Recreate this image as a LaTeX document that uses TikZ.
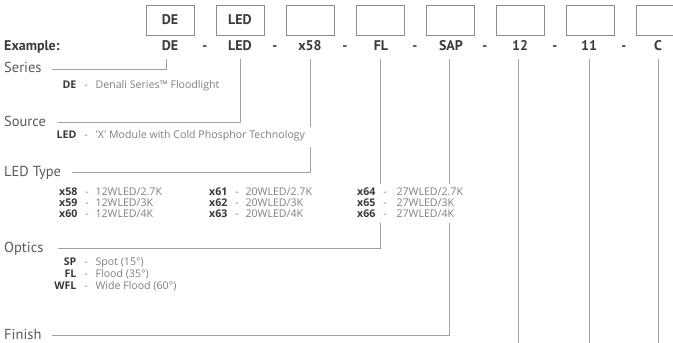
\documentclass[tikz,border=0pt]{standalone}
\usepackage{fontspec}
\setmainfont{PT Sans}
\newfontfamily\smallfam{Open Sans}
\definecolor{labc}{HTML}{5A5A5A}
\definecolor{darkc}{HTML}{3A3A3A}
\definecolor{descc}{HTML}{808080}
\definecolor{linec}{HTML}{A69CAA}
\definecolor{boxc}{HTML}{8E8890}
\newcommand\myrow[6]{%
  \node[codes, anchor=base east] (#1c) at (#2,#4) {#5};
  \node[descs, anchor=base] (#1d) at (#2+9,#4) {-};
  \node[descs, anchor=base west] (#1t) at (#3,#4) {#6};
}
\begin{document}
\begin{tikzpicture}[x=1pt,y=-1pt,
  boxs/.style={draw=boxc, line width=0.8pt, minimum width=48pt, minimum height=30pt, inner sep=0pt, text=darkc, font=\bfseries\fontsize{14}{14}\selectfont},
  vals/.style={inner sep=0pt, text=darkc, font=\bfseries\fontsize{14}{14}\selectfont},
  labs/.style={inner sep=0pt, text=labc, font=\fontsize{14.5}{14.5}\selectfont},
  codes/.style={inner sep=0.4pt, fill=white, text=darkc, font=\smallfam\bfseries\fontsize{10.6}{10.6}\selectfont},
  descs/.style={inner sep=0.4pt, fill=white, text=descc, font=\smallfam\fontsize{10.6}{10.6}\selectfont},
  conn/.style={draw=linec, line width=0.7pt}]
\useasboundingbox (0,0) rectangle (673,343);
\clip (0,0) rectangle (673,343);
\fill[white] (0,0) rectangle (673,343);
% boxes
\node[boxs] (b1) at (170,20) {DE};
\node[boxs] (b2) at (240,20) {LED};
\node[boxs] (b3) at (310,20) {};
\node[boxs] (b4) at (380,20) {};
\node[boxs] (b5) at (450,20) {};
\node[boxs] (b6) at (520,20) {};
\node[boxs] (b7) at (590,20) {};
\node[boxs] (b8) at (660,20) {};
% example row
\node[vals, anchor=base west] (ex) at (4,50) {Example:};
\node[vals, anchor=base] (v1) at (170,50) {DE};
\node[vals, anchor=base] (v2) at (240,50) {LED};
\node[vals, anchor=base] (v3) at (310,50) {x58};
\node[vals, anchor=base] (v4) at (381,50) {FL};
\node[vals, anchor=base] (v5) at (451,50) {SAP};
\node[vals, anchor=base] (v6) at (520,50) {12};
\node[vals, anchor=base] (v7) at (589,50) {11};
\node[vals, anchor=base] (v8) at (658,50) {C};
\foreach \x/\n in {205/1,275/2,345/3,415/4,485/5,555/6,624/7}
  \node[vals, anchor=base] (dash\n) at (\x,50) {-};
% labels
\node[labs, anchor=base west] (series) at (4,72) {Series};
\node[labs, anchor=base west] (source) at (4,126) {Source};
\node[labs, anchor=base west] (ledtype) at (4,176) {LED Type};
\node[labs, anchor=base west] (optics) at (4,252) {Optics};
\node[labs, anchor=base west] (finish) at (4,339) {Finish};
% connector ends
\coordinate (t1) at (166,59);
\coordinate (t2) at (240,59);
\coordinate (t3) at (310,59);
\coordinate (t4) at (380,59);
\coordinate (t5) at (449,59);
\coordinate (t6) at (518,59);
\coordinate (t7) at (589,59);
\coordinate (t8) at (658,59);
\coordinate (e1) at (52,69);
\coordinate (e2) at (58,122);
\coordinate (e3) at (72,172);
\coordinate (e4) at (58,248);
\coordinate (e5) at (52,335);
\coordinate (e6) at (518,345);
\coordinate (e7) at (589,345);
\coordinate (e8) at (658,345);
\draw[conn] (t1) |- (e1);
\draw[conn] (t2) |- (e2);
\draw[conn] (t3) |- (e3);
\draw[conn] (t4) |- (e4);
\draw[conn] (t5) |- (e5);
\draw[conn] (t6) -- (e6);
\draw[conn] (t7) -- (e7);
\draw[conn] (t8) -- (e8);
% white backing behind text blocks that interrupt the lines
\fill[white] (300,127) rectangle (320,147);
\fill[white] (354,184) rectangle (462,223);
% descriptions
\myrow{de}{77}{95}{88}{DE}{Denali Series™ Floodlight}
\myrow{led}{77}{95}{138}{LED}{'X' Module with Cold Phosphor Technology}
\myrow{xa}{78}{95}{195}{x58}{12WLED/2.7K}
\myrow{xb}{78}{95}{206}{x59}{12WLED/3K}
\myrow{xc}{78}{95}{217}{x60}{12WLED/4K}
\myrow{xd}{228}{245}{195}{x61}{20WLED/2.7K}
\myrow{xe}{228}{245}{206}{x62}{20WLED/3K}
\myrow{xf}{228}{245}{217}{x63}{20WLED/4K}
\myrow{xg}{376}{396}{195}{x64}{27WLED/2.7K}
\myrow{xh}{376}{396}{206}{x65}{27WLED/3K}
\myrow{xi}{376}{396}{217}{x66}{27WLED/4K}
\myrow{sp}{77}{95}{265}{SP}{Spot (15°)}
\myrow{fl}{77}{95}{277}{FL}{Flood (35°)}
\myrow{wfl}{77}{95}{289}{WFL}{Wide Flood (60°)}
\end{tikzpicture}
\end{document}
